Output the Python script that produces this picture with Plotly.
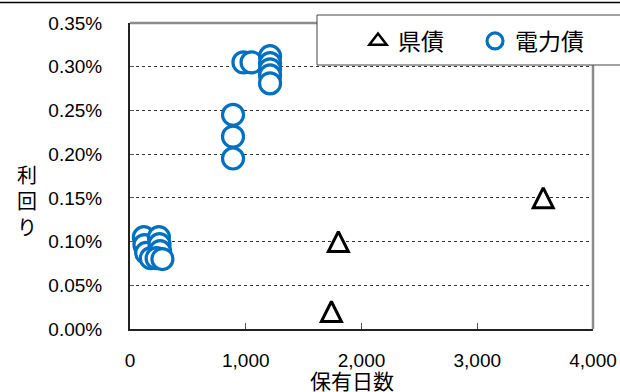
import plotly.graph_objects as go

# 保有日数 (days held) and 利回り (yield, %) for each bond
ken_days = [1740, 1800, 3570]
ken_yield = [0.020, 0.100, 0.150]

denryoku_days = [120, 125, 140, 180, 250, 255, 260, 230, 280,
                 890, 890, 890, 980, 1050, 1210, 1210, 1210, 1210, 1210]
denryoku_yield = [0.105, 0.096, 0.087, 0.081, 0.105, 0.097, 0.089, 0.081, 0.080,
                  0.245, 0.220, 0.195, 0.305, 0.305, 0.312, 0.304, 0.297, 0.290, 0.281]

x_ticks = [0, 1000, 2000, 3000, 4000]
x_tick_labels = ["0", "1,000", "2,000", "3,000", "4,000"]
y_ticks = [0.00, 0.05, 0.10, 0.15, 0.20, 0.25, 0.30, 0.35]
y_tick_labels = ["0.00%", "0.05%", "0.10%", "0.15%", "0.20%", "0.25%", "0.30%", "0.35%"]

FONT = "Liberation Sans, Arial, Noto Sans CJK JP, sans-serif"
BLUE = "#0070C0"
W, H = 620, 392
L, R, T, B = 130, 27, 23, 63
PW, PH = W - L - R, H - T - B

fig = go.Figure()

# 県債: upright open triangles centred on each point
fig.add_trace(go.Scatter(
    x=ken_days, y=ken_yield, mode="markers", name="県債", showlegend=False,
    marker=dict(symbol="arrow-down", angle=180, standoff=10, size=20,
                color="white", line=dict(color="black", width=3)),
))
# legend entry for 県債
fig.add_trace(go.Scatter(
    x=[None], y=[None], mode="markers", name="県債",
    marker=dict(symbol="triangle-up", size=15,
                color="white", line=dict(color="black", width=2.5)),
))
fig.add_trace(go.Scatter(
    x=denryoku_days, y=denryoku_yield, mode="markers", name="電力債",
    marker=dict(symbol="circle", size=21, color="white",
                line=dict(color=BLUE, width=3.2)),
))

fig.update_layout(
    width=W, height=H,
    margin=dict(l=L, r=R, t=T, b=B, autoexpand=False),
    paper_bgcolor="white", plot_bgcolor="white",
    font=dict(family=FONT, color="black", size=19),
    showlegend=True,
    legend=dict(
        orientation="h",
        x=(358 - L) / PW, y=1 - (41 - T) / PH, xanchor="left", yanchor="middle",
        bgcolor="rgba(0,0,0,0)", borderwidth=0,
        font=dict(size=23, family=FONT),
        entrywidth=72, entrywidthmode="pixels",
    ),
    xaxis=dict(
        range=[0, 4000], tickvals=x_ticks, ticktext=x_tick_labels,
        showline=True, linecolor="#222", linewidth=2,
        ticks="inside", ticklen=6, tickcolor="#555", tickwidth=1,
        showgrid=False, zeroline=False,
        ticklabelstandoff=13,
        tickfont=dict(size=19),
    ),
    yaxis=dict(
        range=[0, 0.35], tickvals=y_ticks, ticktext=y_tick_labels,
        showline=True, linecolor="#222", linewidth=2,
        ticks="inside", ticklen=4, tickcolor="#555", tickwidth=1,
        showgrid=True, gridcolor="#333", gridwidth=1, griddash="dot",
        zeroline=False,
        ticklabelstandoff=22,
        tickfont=dict(size=19),
    ),
    shapes=[
        # upper and right frame of the plot area
        dict(type="line", xref="paper", yref="paper", x0=0, x1=1, y0=1, y1=1,
             line=dict(color="#8c8c8c", width=2.5), layer="above"),
        dict(type="line", xref="paper", yref="paper", x0=1, x1=1, y0=0, y1=1,
             line=dict(color="#8c8c8c", width=2.5), layer="above"),
        # outer border line along the top of the chart
        dict(type="line", xref="paper", yref="paper",
             x0=-L / PW, x1=(W - L) / PW, y0=1 + 20.5 / PH, y1=1 + 20.5 / PH,
             line=dict(color="black", width=1.5), layer="above"),
        # legend box
        dict(type="rect", xref="paper", yref="paper",
             x0=(317 - L) / PW, x1=(640 - L) / PW,
             y0=1 - (65 - T) / PH, y1=1 + (T - 15) / PH,
             fillcolor="white", line=dict(color="#444", width=1), layer="above"),
    ],
    annotations=[
        dict(text="利<br>回<br>り", xref="paper", yref="paper",
             x=(27 - L) / PW, y=(H - B - 202) / PH, xanchor="center", yanchor="middle",
             showarrow=False, font=dict(size=20, family=FONT)),
        dict(text="保有日数", xref="paper", yref="paper",
             x=(352 - L) / PW, y=-(381.5 - (H - B)) / PH, xanchor="center", yanchor="middle",
             showarrow=False, font=dict(size=21, family=FONT)),
    ],
)

fig.write_html("out.html")
